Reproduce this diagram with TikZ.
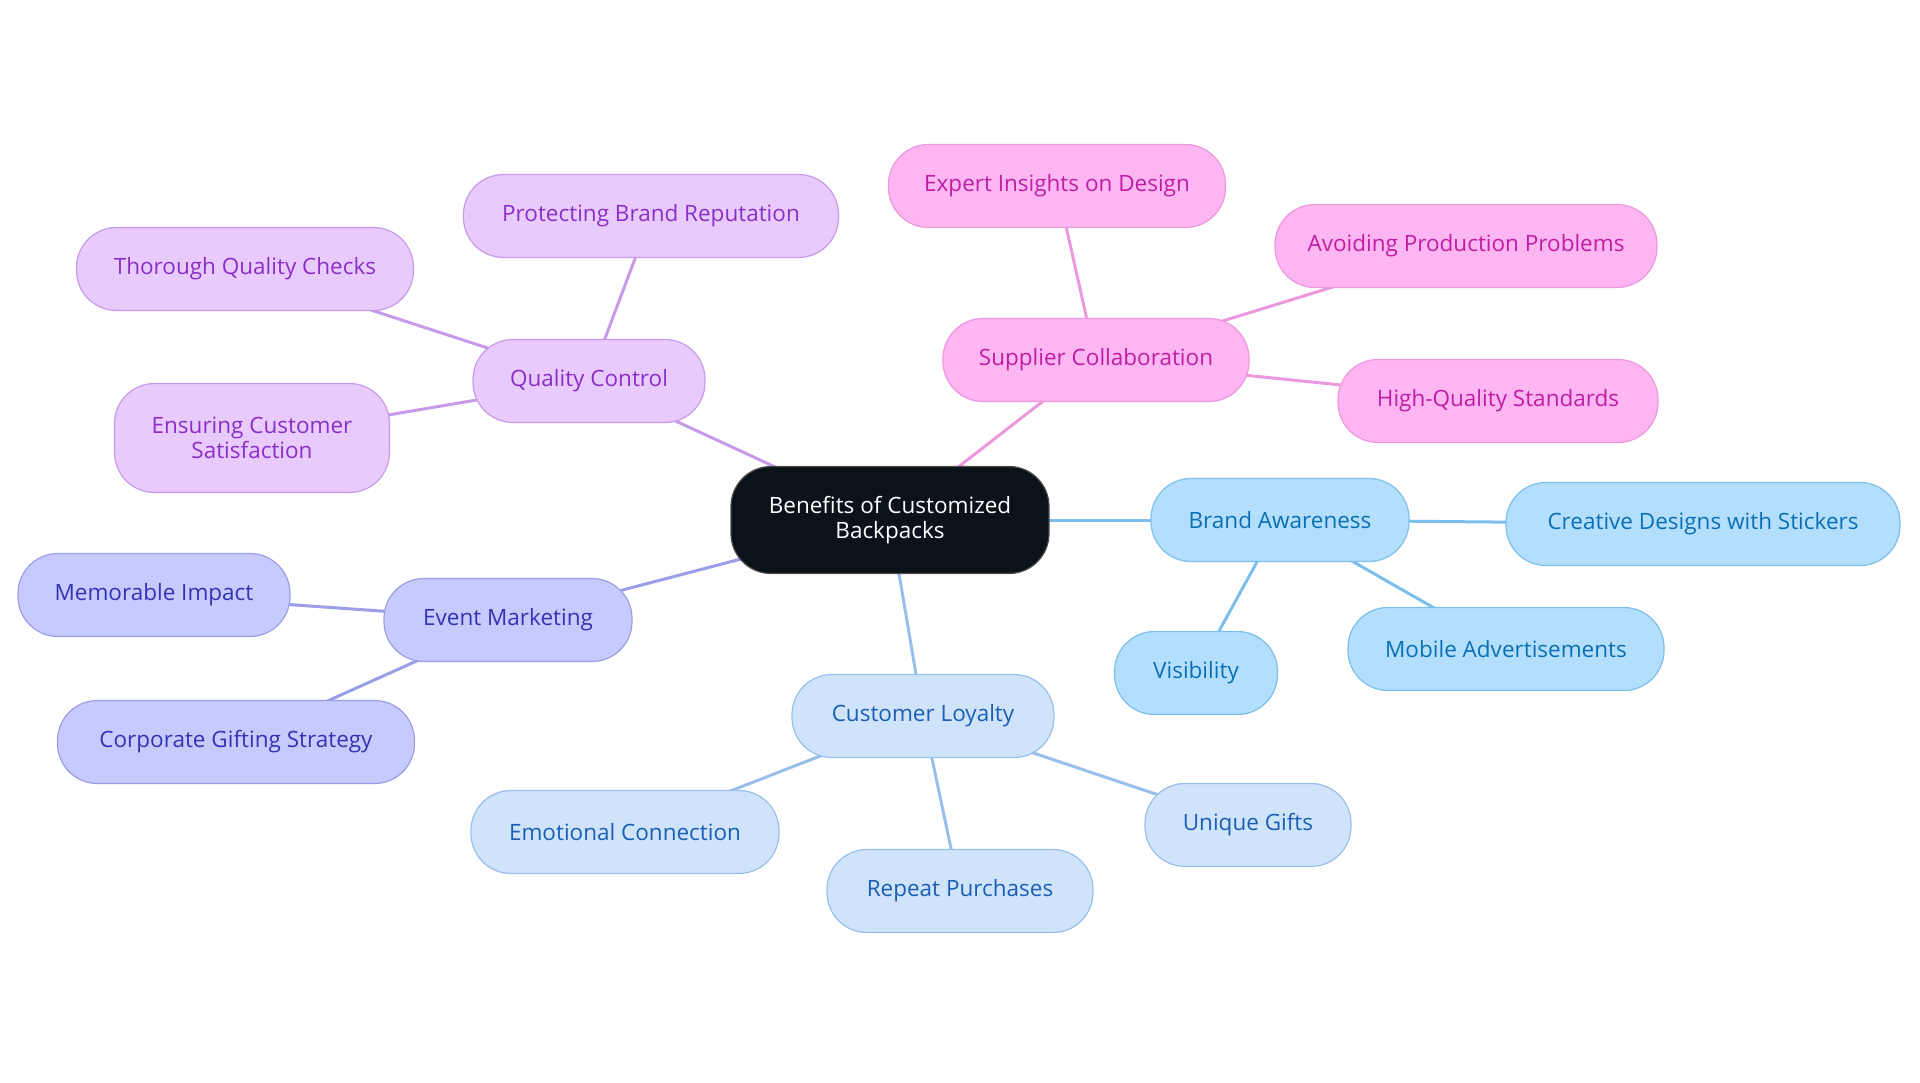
\documentclass[tikz,border=0pt]{standalone}
\usepackage{fontspec}
\setmainfont{Open Sans}
\usetikzlibrary{backgrounds}
\definecolor{qcFill}{HTML}{E9CAFC}
\definecolor{qcLine}{HTML}{C79AEA}
\definecolor{qcText}{HTML}{8A2FC8}
\definecolor{scFill}{HTML}{FDB6F1}
\definecolor{scLine}{HTML}{EB98DE}
\definecolor{scText}{HTML}{C01DA5}
\definecolor{baFill}{HTML}{B3DEFC}
\definecolor{baLine}{HTML}{7CBFEC}
\definecolor{baText}{HTML}{0A70B5}
\definecolor{clFill}{HTML}{CFE3FB}
\definecolor{clLine}{HTML}{98BFEC}
\definecolor{clText}{HTML}{1A5FB5}
\definecolor{emFill}{HTML}{C7CAFC}
\definecolor{emLine}{HTML}{9A9EE8}
\definecolor{emText}{HTML}{3333B5}
\definecolor{ctFill}{HTML}{0B121A}
\tikzset{
  pill/.style={draw, line width=1.2pt, rounded corners=40pt, minimum height=83pt, inner sep=0pt, align=center, font=\fontsize{22.5}{25}\selectfont},
  qc/.style={pill, fill=qcFill, draw=qcLine, text=qcText},
  sc/.style={pill, fill=scFill, draw=scLine, text=scText},
  ba/.style={pill, fill=baFill, draw=baLine, text=baText},
  cl/.style={pill, fill=clFill, draw=clLine, text=clText},
  em/.style={pill, fill=emFill, draw=emLine, text=emText},
  centre/.style={pill, fill=ctFill, draw=black!70, text=white, minimum height=107pt},
  qcl/.style={draw=qcLine, line width=3pt},
  scl/.style={draw=scLine, line width=3pt},
  bal/.style={draw=baLine, line width=3pt},
  cll/.style={draw=clLine, line width=3pt},
  eml/.style={draw=emLine, line width=3pt},
}
\begin{document}
\begin{tikzpicture}[x=1pt,y=-1pt]
\useasboundingbox (0,0) rectangle (1920,1083);
% nodes
\node[centre, minimum width=318pt] (c) at (890,520) {Benefits of Customized\\Backpacks};
\node[qc, minimum width=232pt] (qc) at (589,381) {Quality Control};
\node[qc, minimum width=375pt] (pbr) at (651,216) {Protecting Brand Reputation};
\node[qc, minimum width=337pt] (tqc) at (245,269) {Thorough Quality Checks};
\node[qc, minimum width=275pt, minimum height=109pt] (ecs) at (252,438) {Ensuring Customer\\Satisfaction};
\node[sc, minimum width=306pt] (sc) at (1096,360) {Supplier Collaboration};
\node[sc, minimum width=337pt] (eid) at (1057,186) {Expert Insights on Design};
\node[sc, minimum width=382pt] (app) at (1466,246) {Avoiding Production Problems};
\node[sc, minimum width=320pt] (hqs) at (1498,401) {High-Quality Standards};
\node[ba, minimum width=258pt] (ba) at (1280,520) {Brand Awareness};
\node[ba, minimum width=394pt] (cds) at (1703,524) {Creative Designs with Stickers};
\node[ba, minimum width=316pt] (ma) at (1506,649) {Mobile Advertisements};
\node[ba, minimum width=163pt] (vis) at (1196,673) {Visibility};
\node[cl, minimum width=262pt] (cl) at (923,716) {Customer Loyalty};
\node[cl, minimum width=308pt] (ec) at (625,832) {Emotional Connection};
\node[cl, minimum width=266pt] (rp) at (960,891) {Repeat Purchases};
\node[cl, minimum width=206pt] (ug) at (1248,825) {Unique Gifts};
\node[em, minimum width=248pt] (em) at (508,620) {Event Marketing};
\node[em, minimum width=272pt] (mi) at (154,595) {Memorable Impact};
\node[em, minimum width=357pt] (cgs) at (236,742) {Corporate Gifting Strategy};
% connectors
\begin{scope}[on background layer]
\draw[qcl] (c.center) -- (qc.center);
\draw[qcl] (qc.center) -- (pbr.center);
\draw[qcl] (qc.center) -- (tqc.center);
\draw[qcl] (qc.center) -- (ecs.center);
\draw[scl] (c.center) -- (sc.center);
\draw[scl] (sc.center) -- (eid.center);
\draw[scl] (sc.center) -- (app.center);
\draw[scl] (sc.center) -- (hqs.center);
\draw[bal] (c.center) -- (ba.center);
\draw[bal] (ba.center) -- (cds.center);
\draw[bal] (ba.center) -- (ma.center);
\draw[bal] (ba.center) -- (vis.center);
\draw[cll] (c.center) -- (cl.center);
\draw[cll] (cl.center) -- (ec.center);
\draw[cll] (cl.center) -- (rp.center);
\draw[cll] (cl.center) -- (ug.center);
\draw[eml] (c.center) -- (em.center);
\draw[eml] (em.center) -- (mi.center);
\draw[eml] (em.center) -- (cgs.center);
\end{scope}
\end{tikzpicture}
\end{document}
